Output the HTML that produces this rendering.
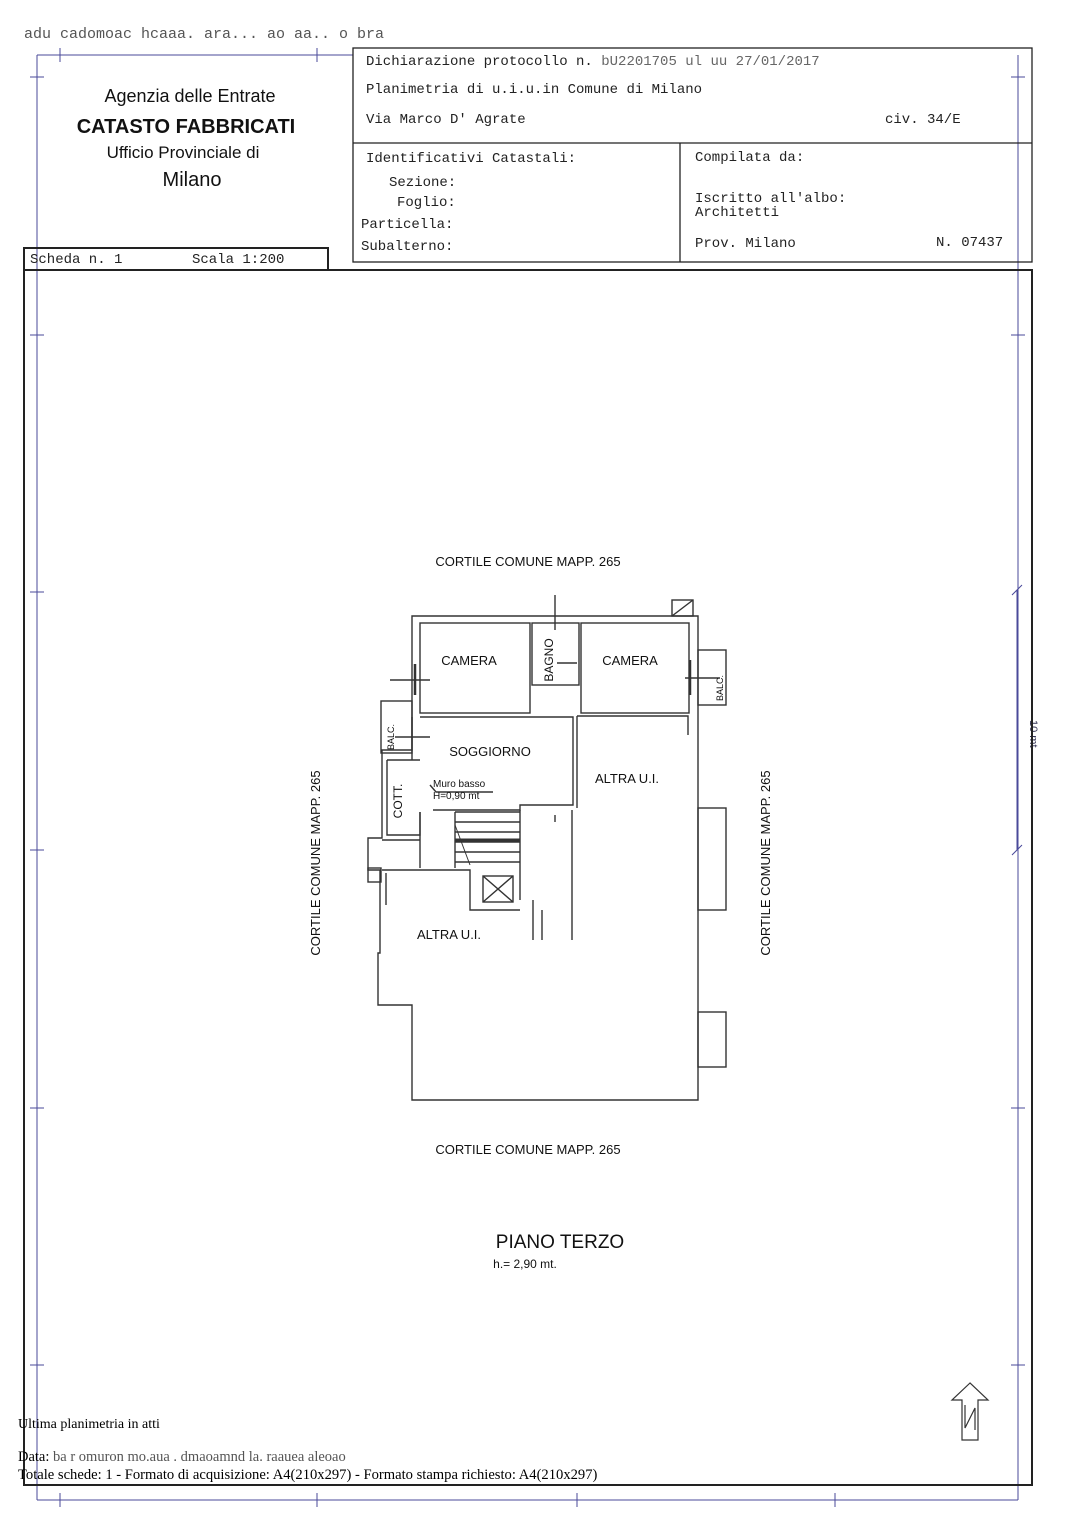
<!DOCTYPE html>
<html><head><meta charset="utf-8"><style>
html,body{margin:0;padding:0;background:#fff}
svg{display:block}
.m{font-family:"Liberation Mono",monospace;font-size:14px;fill:#222}
.s{font-family:"Liberation Sans",sans-serif;fill:#111}
</style></head><body>
<svg width="1086" height="1535" viewBox="0 0 1086 1535" xmlns="http://www.w3.org/2000/svg">
<rect width="1086" height="1535" fill="#fff"/>
<text x="24" y="38" class="m" style="font-size:15px;fill:#555">adu cadomoac hcaaa. ara... ao  aa..  o bra</text>
<g stroke="#4a4a9a" stroke-width="1" fill="none">
<line x1="37" y1="55" x2="37" y2="1500"/>
<line x1="1018" y1="55" x2="1018" y2="1500"/>
<line x1="37" y1="55" x2="353" y2="55"/>
<line x1="37" y1="1500" x2="1018" y2="1500"/>
<line x1="60" y1="48" x2="60" y2="62"/><line x1="317" y1="48" x2="317" y2="62"/>
<line x1="60" y1="1493" x2="60" y2="1507"/><line x1="317" y1="1493" x2="317" y2="1507"/>
<line x1="577" y1="1493" x2="577" y2="1507"/><line x1="835" y1="1493" x2="835" y2="1507"/>
<line x1="30" y1="77" x2="44" y2="77"/><line x1="1011" y1="77" x2="1025" y2="77"/>
<line x1="30" y1="335" x2="44" y2="335"/><line x1="1011" y1="335" x2="1025" y2="335"/>
<line x1="30" y1="592" x2="44" y2="592"/><line x1="30" y1="850" x2="44" y2="850"/>
<line x1="30" y1="1108" x2="44" y2="1108"/><line x1="1011" y1="1108" x2="1025" y2="1108"/>
<line x1="30" y1="1365" x2="44" y2="1365"/><line x1="1011" y1="1365" x2="1025" y2="1365"/>
<line x1="1017" y1="590" x2="1017" y2="850"/>
<line x1="1012" y1="595" x2="1022" y2="585"/><line x1="1012" y1="855" x2="1022" y2="845"/>
</g>
<text x="1030" y="720" transform="rotate(90 1030 720)" class="s" style="font-size:11px;fill:#335">10 mt</text>
<g stroke="#222" stroke-width="1.3" fill="none">
<rect x="353" y="48" width="679" height="214"/>
<line x1="353" y1="143" x2="1032" y2="143"/>
<line x1="680" y1="143" x2="680" y2="262"/>
<rect x="24" y="248" width="304" height="22" stroke-width="2"/>
<rect x="24" y="270" width="1008" height="1215" stroke-width="2"/>
</g>
<text x="190" y="102" text-anchor="middle" class="s" style="font-size:18px">Agenzia delle Entrate</text>
<text x="186" y="133" text-anchor="middle" class="s" style="font-size:20px;font-weight:bold">CATASTO FABBRICATI</text>
<text x="183" y="158" text-anchor="middle" class="s" style="font-size:17px">Ufficio Provinciale di</text>
<text x="192" y="186" text-anchor="middle" class="s" style="font-size:20px">Milano</text>
<text x="366" y="65" class="m">Dichiarazione protocollo n. <tspan fill="#666">bU2201705 ul uu 27/01/2017</tspan></text>
<text x="366" y="93" class="m">Planimetria di u.i.u.in Comune di Milano</text>
<text x="366" y="123" class="m">Via Marco D' Agrate</text>
<text x="885" y="123" class="m">civ. 34/E</text>
<text x="366" y="162" class="m">Identificativi Catastali:</text>
<text x="389" y="186" class="m">Sezione:</text>
<text x="397" y="206" class="m">Foglio:</text>
<text x="361" y="228" class="m">Particella:</text>
<text x="361" y="250" class="m">Subalterno:</text>
<text x="695" y="161" class="m">Compilata da:</text>
<text x="695" y="202" class="m">Iscritto all'albo:</text>
<text x="695" y="216" class="m">Architetti</text>
<text x="695" y="247" class="m">Prov. Milano</text>
<text x="936" y="246" class="m">N. 07437</text>
<text x="30" y="263" class="m">Scheda n. 1</text>
<text x="192" y="263" class="m">Scala 1:200</text>
<text x="528" y="566" text-anchor="middle" class="s" style="font-size:13px">CORTILE COMUNE MAPP. 265</text>
<text x="528" y="1154" text-anchor="middle" class="s" style="font-size:13px">CORTILE COMUNE MAPP. 265</text>
<text x="320" y="863" text-anchor="middle" transform="rotate(-90 320 863)" class="s" style="font-size:13px">CORTILE COMUNE MAPP. 265</text>
<text x="770" y="863" text-anchor="middle" transform="rotate(-90 770 863)" class="s" style="font-size:13px">CORTILE COMUNE MAPP. 265</text>
<g stroke="#333" stroke-width="1.4" fill="none">
<path d="M412 616 H698 V1100 H412 V1005 H378 V953 H380 V870 H368 V838 H382 V750 H412 Z"/>
<rect x="420" y="623" width="110" height="90"/>
<rect x="581" y="623" width="108" height="90"/>
<rect x="532" y="623" width="47" height="62"/>
<path d="M557 663 H577"/>
<path d="M420 717 H573 V805 H520 V810 H433 V810"/>
<path d="M577 716 H688 V735"/>
<path d="M577 716 V808 M572 810 V940"/>
<path d="M387 760 H420 M387 760 V835 H420 V812"/>
<path d="M412 717 V760"/>
<path d="M382 840 H420 M382 870 H470 V910 H520 M386 873 V905"/>
<path d="M420 812 V868 M455 812 V868 M520 810 V900 M533 900 V940 M542 910 V940"/>
<rect x="483" y="876" width="30" height="26"/>
<path d="M483 876 L513 902 M513 876 L483 902"/>
<path d="M455 812 H520 M455 822 H520 M455 832 H520 M455 842 H520 M455 852 H520 M455 862 H520"/>
<path d="M455 840 H520" stroke-width="3"/>
<rect x="381" y="701" width="31" height="52"/>
<rect x="698" y="650" width="28" height="55"/>
<rect x="698" y="808" width="28" height="102"/>
<rect x="698" y="1012" width="28" height="55"/>
<rect x="672" y="600" width="21" height="16"/>
<path d="M672 616 L693 600"/>
<rect x="368" y="868" width="13" height="14"/>
<path d="M555 595 V630 M390 680 H430 M395 737 H430 M685 678 H720 M555 815 V822 M430 785 L436 792 H493"/>
<path d="M415 664 V695 M690 660 V695" stroke-width="2.5"/>
</g>
<g stroke="#333" stroke-width="1"><path d="M455 825 L470 865"/></g>
<text x="469" y="665" text-anchor="middle" class="s" style="font-size:13px">CAMERA</text>
<text x="630" y="665" text-anchor="middle" class="s" style="font-size:13px">CAMERA</text>
<text x="553" y="660" text-anchor="middle" transform="rotate(-90 553 660)" class="s" style="font-size:12px">BAGNO</text>
<text x="490" y="756" text-anchor="middle" class="s" style="font-size:13px">SOGGIORNO</text>
<text x="627" y="783" text-anchor="middle" class="s" style="font-size:13px">ALTRA U.I.</text>
<text x="449" y="939" text-anchor="middle" class="s" style="font-size:13px">ALTRA U.I.</text>
<text x="402" y="801" text-anchor="middle" transform="rotate(-90 402 801)" class="s" style="font-size:12px">COTT.</text>
<text x="394" y="737" text-anchor="middle" transform="rotate(-90 394 737)" class="s" style="font-size:9px">BALC.</text>
<text x="723" y="688" text-anchor="middle" transform="rotate(-90 723 688)" class="s" style="font-size:9px">BALC.</text>
<text x="433" y="787" class="s" style="font-size:10px">Muro basso</text>
<text x="433" y="799" class="s" style="font-size:10px">H=0,90 mt</text>
<text x="560" y="1248" text-anchor="middle" class="s" style="font-size:19px">PIANO TERZO</text>
<text x="525" y="1268" text-anchor="middle" class="s" style="font-size:12px">h.= 2,90 mt.</text>
<g stroke="#333" stroke-width="1.2" fill="none">
<path d="M970 1383 L952 1400 H962 V1440 H978 V1400 H988 Z"/>
<path d="M965 1405 V1428 L975 1408 V1430"/>
</g>
<text x="18" y="1428" style="font-family:'Liberation Serif',serif;font-size:14px">Ultima planimetria in atti</text>
<text x="18" y="1461" style="font-family:'Liberation Serif',serif;font-size:14.5px">Data: <tspan fill="#555">ba   r omuron mo.aua . dmaoamnd la. raauea   aleoao</tspan></text>
<text x="18" y="1479" style="font-family:'Liberation Serif',serif;font-size:14.6px">Totale schede: 1 - Formato di acquisizione: A4(210x297)  - Formato stampa richiesto: A4(210x297)</text>
</svg>
</body></html>
